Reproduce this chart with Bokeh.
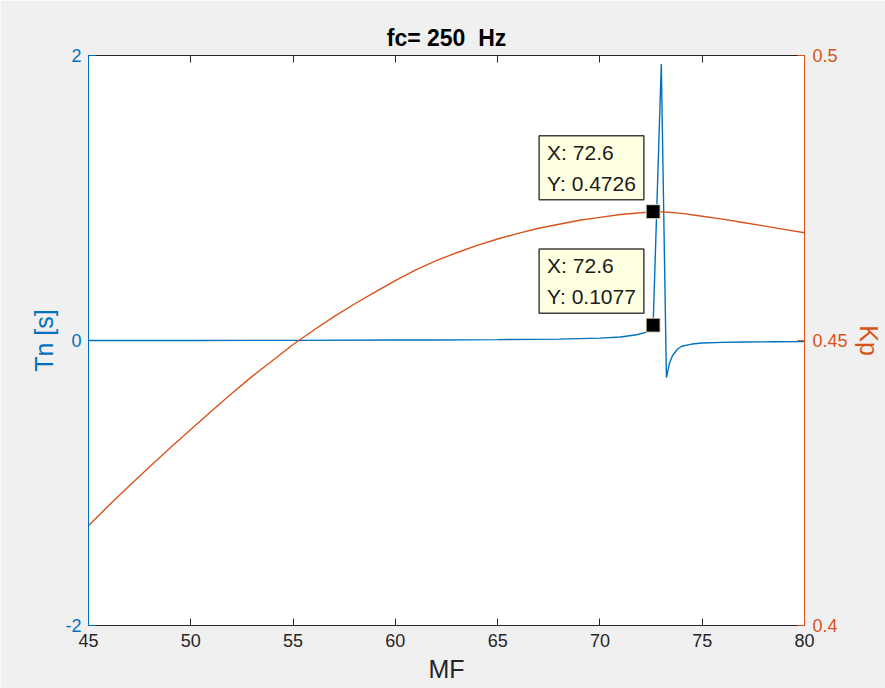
import math
from bokeh.plotting import figure
from bokeh.models import Range1d, LinearAxis, FixedTicker, Label, ColumnDataSource, CustomJSTickFormatter
from bokeh.embed import file_html
from bokeh.resources import INLINE

# ---- data ----
mf_tn = [45, 50, 55, 60, 62, 65, 68, 70, 71, 71.8, 72.2, 72.4, 72.6, 73.0, 73.25, 73.4, 73.55, 73.8, 74.0, 74.5, 75.0, 76.0, 77.0, 78.5, 80.0]
tn = [0.0, 0.0, 0.001, 0.003, 0.004, 0.006, 0.010, 0.017, 0.025, 0.040, 0.055, 0.070, 0.1077, 1.94, -0.26, -0.16, -0.105, -0.06, -0.04, -0.025, -0.018, -0.013, -0.011, -0.009, -0.008]

mf_kp = [45, 46, 47, 48, 49, 50, 51, 52, 53, 54, 55, 56, 57, 58, 59, 60, 61, 62, 63, 64, 65, 66, 67, 68, 69, 70, 71, 72, 72.6, 73, 74, 75, 76, 77, 78, 79, 80]
kp = [0.4175, 0.4211, 0.4245, 0.4279, 0.4312, 0.4344, 0.4376, 0.4407, 0.4437, 0.4465, 0.4493, 0.4518, 0.4542, 0.4564, 0.4585, 0.4605, 0.4624, 0.4640, 0.4654, 0.4667, 0.4678, 0.4688, 0.4697, 0.4704, 0.4711, 0.4716, 0.4721, 0.4724, 0.4726, 0.4726, 0.4723, 0.4718, 0.4713, 0.4707, 0.4701, 0.4695, 0.4689]

x_ticks = [45, 50, 55, 60, 65, 70, 75, 80]
tn_ticks = [-2, 0, 2]
kp_ticks = [0.4, 0.45, 0.5]

tip_tn = (72.6, 0.1077)
tip_kp = (72.6, 0.4726)

title_text = "fc= 250\u00a0 Hz"

BLUE = "#0072BD"
ORANGE = "#D95319"
DARK = "#262626"
FONT = "Liberation Sans"

fmt = CustomJSTickFormatter(code="return String(Number(tick.toFixed(4)));")

p = figure(width=885, height=688, x_range=Range1d(45, 80), y_range=Range1d(-2, 2),
           output_backend="svg", toolbar_location=None,
           min_border_left=88, min_border_right=78, min_border_top=55, min_border_bottom=63,
           background_fill_color="white", border_fill_color="#f0f0f0",
           outline_line_color=DARK, outline_line_width=1)
p.extra_y_ranges = {"kp": Range1d(0.4, 0.5)}
p.grid.visible = False

p.title.text = title_text
p.title.align = "center"
p.title.text_font = FONT
p.title.text_font_size = "23px"
p.title.text_font_style = "bold"
p.title.text_color = "#000000"
p.title.standoff = 9

def style_axis(ax, color, ticks):
    ax.ticker = FixedTicker(ticks=ticks)
    ax.formatter = fmt
    ax.major_tick_in = 7
    ax.major_tick_out = 0
    ax.minor_tick_line_color = None
    ax.axis_line_color = color
    ax.major_tick_line_color = color
    ax.major_label_text_color = color
    ax.major_label_text_font = FONT
    ax.major_label_text_font_size = "18px"
    ax.axis_label_text_color = color
    ax.axis_label_text_font = FONT
    ax.axis_label_text_font_size = "25px"
    ax.axis_label_text_font_style = "normal"

xa = p.xaxis[0]
style_axis(xa, DARK, x_ticks)
xa.axis_label = "MF"
xa.major_label_standoff = 8
xa.axis_label_standoff = 5

ya = p.yaxis[0]
style_axis(ya, BLUE, tn_ticks)
ya.axis_label = "Tn [s]"
ya.major_label_standoff = 7
ya.axis_label_standoff = 4

ra = LinearAxis(y_range_name="kp")
style_axis(ra, ORANGE, kp_ticks)
ra.major_label_standoff = 8
ra.axis_label = "Kp"
ra.axis_label_standoff = 4
p.add_layout(ra, "right")

ta = LinearAxis()
style_axis(ta, DARK, x_ticks)
ta.major_label_text_font_size = "0px"
ta.major_label_standoff = 0
p.add_layout(ta, "above")

src_tn = ColumnDataSource(dict(x=mf_tn, y=tn))
src_kp = ColumnDataSource(dict(x=mf_kp, y=kp))
p.line("x", "y", source=src_tn, line_color=BLUE, line_width=1.4)
p.line("x", "y", source=src_kp, line_color=ORANGE, line_width=1.4, y_range_name="kp")

# data tips
for (tx, ty), rng in ((tip_tn, "default"), (tip_kp, "kp")):
    lab = Label(x=tx, y=ty, y_range_name=rng, text=f"X: {tx}\nY: {ty}",
                text_font=FONT, text_font_size="21px", text_color="#1a1a1a",
                text_align="left", text_baseline="bottom", text_line_height=1.35,
                x_offset=-114, y_offset=12,
                background_fill_color="#ffffe1", border_line_color="#404040", border_line_width=1.5,
                padding=(8, 5))
    p.add_layout(lab)
    p.scatter([tx], [ty], marker="square", size=14, fill_color="black", line_color="#e6e6c8",
              line_width=1, y_range_name=rng)

open("out.html", "w").write(file_html(p, INLINE))
